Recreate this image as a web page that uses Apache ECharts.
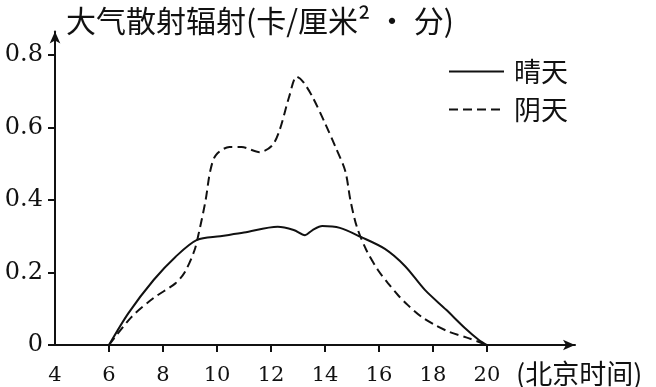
<!DOCTYPE html>
<html>
<head>
<meta charset="utf-8">
<script src="https://cdn.jsdelivr.net/npm/echarts@6/dist/echarts.min.js"></script>
<style>
html,body{margin:0;padding:0;background:#fff;}
#chart{width:656px;height:387px;}
</style>
</head>
<body>
<div id="chart"></div>
<script>
const seriesNames = ['晴天', '阴天'];
const sunnyHours  = [6, 6.72, 7.66, 8.46, 9.26, 10.12, 11.0, 12.25, 12.84, 13.26, 13.54, 13.9, 14.55, 15.33, 16.22, 16.96, 17.7, 18.49, 19.18, 19.7, 20];
const sunnyValues = [0, 0.088, 0.18, 0.243, 0.29, 0.30, 0.31, 0.326, 0.317, 0.303, 0.317, 0.328, 0.323, 0.298, 0.265, 0.218, 0.152, 0.097, 0.047, 0.014, 0];
const cloudyHours  = [6, 6.83, 7.66, 8.46, 8.8, 9.16, 9.33, 9.58, 9.75, 9.96, 10.46, 10.91, 11.58, 12.04, 12.32, 12.67, 12.95, 13.19, 13.54, 14.0, 14.39, 14.75, 14.94, 15.18, 15.53, 15.96, 16.33, 16.7, 17.07, 17.59, 18.08, 18.61, 19.31, 20];
const cloudyValues = [0, 0.077, 0.13, 0.17, 0.20, 0.26, 0.31, 0.40, 0.48, 0.524, 0.546, 0.546, 0.532, 0.55, 0.593, 0.684, 0.74, 0.726, 0.684, 0.612, 0.546, 0.48, 0.40, 0.326, 0.262, 0.207, 0.171, 0.138, 0.11, 0.077, 0.055, 0.036, 0.019, 0];
const xTickLabels = [4, 6, 8, 10, 12, 14, 16, 18, 20];
const xTicks = [6, 8, 10, 12, 14, 16, 18, 20];
const yTickLabels = [0, 0.2, 0.4, 0.6, 0.8];
const yAxisTitle = '大气散射辐射(卡/厘米² · 分)';
const xAxisTitle = '(北京时间)';

const toPairs = (xs, ys) => xs.map((x, i) => [x, ys[i]]);

const chart = echarts.init(document.getElementById('chart'), null, {renderer: 'canvas'});
const cjk = '"Noto Sans CJK SC", sans-serif';
const serif = '"DejaVu Serif", serif';
chart.setOption({
  animation: false,
  backgroundColor: '#fff',
  title: [
    {text: yAxisTitle, left: 61, top: 1, textStyle: {fontFamily: cjk, fontSize: 30, fontWeight: 'normal', color: '#111'}},
    {text: xAxisTitle, left: 511, top: 355, textStyle: {fontFamily: cjk, fontSize: 27, fontWeight: 'normal', color: '#111'}}
  ],
  legend: {
    orient: 'vertical', left: 443, top: 53, itemWidth: 55, itemHeight: 14, itemGap: 11,
    data: seriesNames,
    itemStyle: {opacity: 0, borderWidth: 0},
    textStyle: {fontFamily: cjk, fontSize: 27, color: '#111', padding: [0, 0, 0, 5]}
  },
  grid: {left: 55, right: 81, top: 31.4, bottom: 42},
  xAxis: {
    type: 'value', min: 4, max: 23.26,
    axisLine: {show: true, symbol: ['none', 'arrow'], symbolSize: [8, 12], lineStyle: {color: '#111', width: 2}},
    axisTick: {show: true, customValues: xTicks, length: 7, inside: false, lineStyle: {color: '#111', width: 2}},
    axisLabel: {customValues: xTickLabels, margin: 20, fontFamily: serif, fontSize: 21, color: '#111'},
    splitLine: {show: false}
  },
  yAxis: {
    type: 'value', min: 0, max: 0.865,
    axisLine: {show: true, symbol: ['none', 'arrow'], symbolSize: [8, 12], lineStyle: {color: '#111', width: 2}},
    axisTick: {show: true, customValues: yTickLabels, length: 7, lineStyle: {color: '#111', width: 2}},
    axisLabel: {customValues: yTickLabels, margin: 12, fontFamily: serif, fontSize: 24, color: '#111',
      formatter: v => (v === 0 ? '0' : v.toFixed(1))},
    splitLine: {show: false}
  },
  series: [
    {name: seriesNames[0], type: 'line', data: toPairs(sunnyHours, sunnyValues), symbol: 'none', smooth: 0.3,
      lineStyle: {color: '#111', width: 2, type: 'solid'}, itemStyle: {color: '#111'}},
    {name: seriesNames[1], type: 'line', data: toPairs(cloudyHours, cloudyValues), symbol: 'none', smooth: 0.3,
      lineStyle: {color: '#111', width: 2, type: [9, 5]}, itemStyle: {color: '#111'}}
  ]
});
</script>
</body>
</html>
